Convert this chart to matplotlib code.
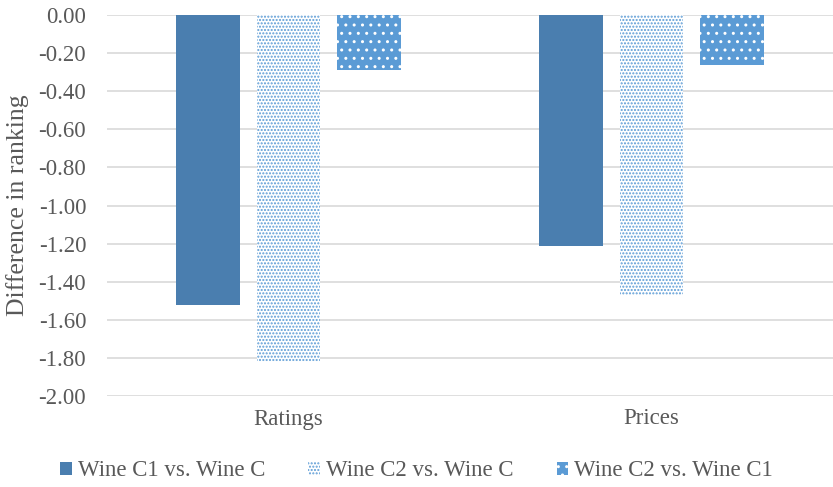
import matplotlib
matplotlib.use("Agg")
import matplotlib.pyplot as plt
import numpy as np

categories = ["Ratings", "Prices"]
series_names = ["Wine C1 vs. Wine C", "Wine C2 vs. Wine C", "Wine C2 vs. Wine C1"]
c1_vs_c = [-1.52, -1.21]
c2_vs_c = [-1.82, -1.47]
c2_vs_c1 = [-0.29, -0.26]
y_ticks = [-2.0, -1.8, -1.6, -1.4, -1.2, -1.0, -0.8, -0.6, -0.4, -0.2, 0.0]
y_tick_labels = ["-2.00", "-1.80", "-1.60", "-1.40", "-1.20", "-1.00",
                 "-0.80", "-0.60", "-0.40", "-0.20", "0.00"]

text_color = "#595959"
plt.rcParams["font.family"] = ["Liberation Serif", "DejaVu Serif"]
plt.rcParams["hatch.linewidth"] = 1.0

fig = plt.figure(figsize=(8.33, 4.87), dpi=100)
ax = fig.add_axes([107 / 833, 1 - 396 / 487, 726 / 833, 381 / 487])

x = np.arange(len(categories))
width = 0.175
step = 0.222

b1 = ax.bar(x - step, c1_vs_c, width, color="#4A7EAF", linewidth=0,
            label=series_names[0], zorder=3)
b2 = ax.bar(x, c2_vs_c, width, facecolor="white", edgecolor="#5B9BD5",
            hatch=".....", linewidth=0, label=series_names[1], zorder=3)
b3 = ax.bar(x + step, c2_vs_c1, width, facecolor="#5B9BD5", edgecolor="white",
            hatch="..", linewidth=0, label=series_names[2], zorder=3)

ax.set_xlim(-0.5, 1.5)
ax.set_ylim(-2.0, 0.0)
ax.set_yticks(y_ticks)
ax.set_yticklabels(y_tick_labels)
ax.set_xticks(x)
ax.set_xticklabels(categories)
ax.tick_params(axis="both", length=0, labelsize=16.5, labelcolor=text_color)
ax.tick_params(axis="y", pad=15)
ax.tick_params(axis="x", pad=9)

ax.grid(axis="y", color="#D9D9D9", linewidth=1.2, zorder=0)
ax.set_axisbelow(True)
for s in ax.spines.values():
    s.set_visible(False)

fig.text(18 / 833, 1 - 205 / 487, "Difference in ranking", rotation=90,
         ha="center", va="center", fontsize=18.5, color=text_color)

leg = fig.legend(handles=[b1, b2, b3], loc="center",
                 bbox_to_anchor=(0.5, 1 - 471 / 487), ncol=3, frameon=False,
                 fontsize=16.5, handlelength=0.5, handleheight=0.5,
                 handletextpad=0.25, columnspacing=1.9)
for t in leg.get_texts():
    t.set_color(text_color)

fig.savefig("out.png", dpi=100)
